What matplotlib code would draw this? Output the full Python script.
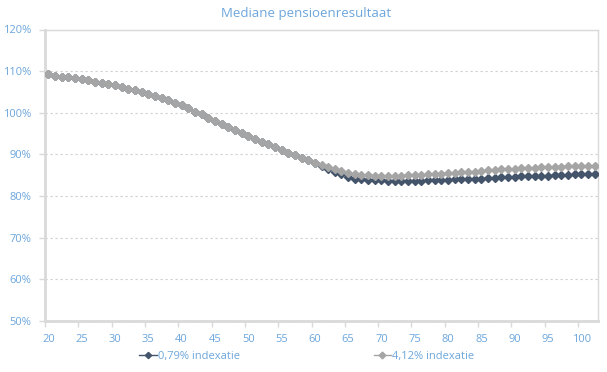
# mediane pensioenresultaat, two indexation scenarios

import numpy as np
from matplotlib import pyplot as plt
from matplotlib.ticker import FixedLocator

plt.rcParams['font.family'] = ['Open Sans', 'DejaVu Sans']

#---- data

ages = list(range(20, 103))

index_412 = [109.2, 108.9, 108.7, 108.5, 108.3, 108.1, 107.8, 107.5, 107.2, 106.9,
             106.6, 106.2, 105.8, 105.4, 105.0, 104.6, 104.1, 103.6, 103.0, 102.4,
             101.8, 101.1, 100.3, 99.6, 98.8, 98.1, 97.4, 96.6, 95.9, 95.2,
             94.5, 93.8, 93.1, 92.4, 91.7, 91.1, 90.4, 89.8, 89.2, 88.6,
             88.0, 87.4, 86.9, 86.4, 86.0, 85.6, 85.3, 85.1, 85.0, 84.9,
             84.9, 84.9, 84.9, 84.9, 85.0, 85.0, 85.1, 85.2, 85.3, 85.4,
             85.5, 85.6, 85.7, 85.8, 85.9, 86.0, 86.2, 86.3, 86.4, 86.5,
             86.6, 86.7, 86.8, 86.8, 86.9, 87.0, 87.0, 87.1, 87.2, 87.2,
             87.2, 87.2, 87.2]

index_079 = [109.2, 108.9, 108.7, 108.5, 108.3, 108.1, 107.8, 107.5, 107.2, 106.9,
             106.6, 106.2, 105.8, 105.4, 105.0, 104.6, 104.1, 103.6, 103.0, 102.4,
             101.8, 101.1, 100.3, 99.6, 98.8, 98.1, 97.4, 96.6, 95.9, 95.2,
             94.5, 93.8, 93.1, 92.4, 91.7, 91.1, 90.4, 89.8, 89.2, 88.6,
             88.0, 87.3, 86.6, 85.9, 85.2, 84.6, 84.2, 84.0, 83.9, 83.8,
             83.8, 83.7, 83.7, 83.7, 83.7, 83.7, 83.7, 83.8, 83.8, 83.9,
             83.9, 84.0, 84.0, 84.1, 84.2, 84.2, 84.3, 84.4, 84.5, 84.5,
             84.6, 84.7, 84.8, 84.8, 84.9, 84.9, 85.0, 85.1, 85.1, 85.2,
             85.2, 85.3, 85.3]

labels = ['0,79% indexatie', '4,12% indexatie']
title = 'Mediane pensioenresultaat'

txt = '#6CA6DC'
grey_line = '#D9D9D9'

#---> Create the figure

fig = plt.figure(figsize=(6.07, 3.72), dpi=100)
ax = fig.add_axes([45/607, 1-321/372, (598-45)/607, (321-29.5)/372])

ax.plot(ages, index_079, '-D', color='#44546A', ms=4.0, lw=1.0, label=labels[0], zorder=3)
ax.plot(ages, index_412, '-D', color='#A5A5A5', ms=4.3, lw=1.0, label=labels[1], zorder=4)

ax.set_xlim(19.5, 102.5)
ax.set_ylim(50, 120)

xt = list(range(20, 101, 5))
ax.set_xticks(xt)
ax.set_xticklabels([str(t) for t in xt])
ax.xaxis.set_minor_locator(FixedLocator([t - 0.5 for t in xt]))
ax.tick_params(axis='x', which='major', length=0, pad=9, labelcolor=txt, labelsize=8)
ax.tick_params(axis='x', which='minor', length=4, color=grey_line, width=1)

yt = list(range(50, 121, 10))
ax.set_yticks(yt)
ax.set_yticklabels(['%d%%' % t for t in yt])
ax.tick_params(axis='y', length=4, color=grey_line, width=1, pad=6, labelcolor=txt, labelsize=8)

ax.grid(axis='y', linestyle=(0, (2, 2.5)), color='#D0D0D0', lw=0.8)
ax.set_axisbelow(True)

for side in ['left', 'bottom']:
    ax.spines[side].set_color(grey_line)
    ax.spines[side].set_linewidth(2)
for side in ['top', 'right']:
    ax.spines[side].set_color(grey_line)
    ax.spines[side].set_linewidth(1)

fig.text(306/607, 1-14/372, title, ha='center', va='center', color=txt, fontsize=9.5)

fig.legend(loc='center', bbox_to_anchor=(307/607, 1-356/372), ncol=2, frameon=False,
           handlelength=1.6, handletextpad=0.1, columnspacing=12.0,
           labelcolor=txt, fontsize=8, markerscale=0.8)

#---> Output and save

plt.savefig('out.png', dpi=100)
